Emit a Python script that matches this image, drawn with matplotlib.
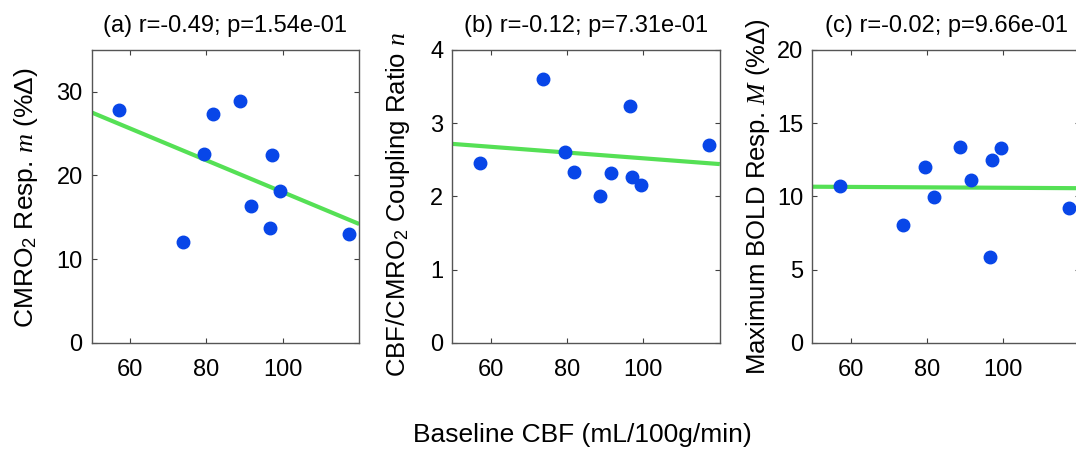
import numpy as np
import matplotlib
matplotlib.use("Agg")
import matplotlib.pyplot as plt

# ---- data ----
baseline_cbf = [57.2, 73.8, 79.5, 81.8, 88.7, 91.6, 96.6, 97.1, 99.4, 117.2]
cmro2_resp   = [27.8, 12.1, 22.6, 27.3, 28.9, 16.4, 13.7, 22.4, 18.1, 13.05]
coupling_n   = [2.46, 3.60, 2.61, 2.33, 2.00, 2.32, 3.23, 2.26, 2.15, 2.70]
bold_max_M   = [10.7, 8.04, 11.98, 9.95, 13.35, 11.14, 5.88, 12.48, 13.28, 9.23]

titles = ["(a) r=-0.49; p=1.54e-01",
          "(b) r=-0.12; p=7.31e-01",
          "(c) r=-0.02; p=9.66e-01"]
ylabels = ["CMRO$_2$ Resp. $m$ (%\u0394)",
           "CBF/CMRO$_2$ Coupling Ratio $n$",
           "Maximum BOLD Resp. $M$ (%\u0394)"]
ylims = [(0, 35), (0, 4), (0, 20)]
yticks = [[0, 10, 20, 30], [0, 1, 2, 3, 4], [0, 5, 10, 15, 20]]
xticks = [60, 80, 100]
xlim = (50, 120)
xlabel = "Baseline CBF (mL/100g/min)"

plt.rcParams['font.family'] = ['Liberation Sans', 'DejaVu Sans']
plt.rcParams['mathtext.fontset'] = 'custom'
plt.rcParams['mathtext.rm'] = 'Liberation Sans'
plt.rcParams['mathtext.it'] = 'Liberation Serif:italic'
plt.rcParams['mathtext.bf'] = 'Liberation Sans:bold'

W, H = 1076, 451
fig = plt.figure(figsize=(W / 100, H / 100), dpi=100)

lefts = [91.7, 452.3, 812.3]
ax_w, ax_top, ax_bot = 267.5, 50.0, 342.7
# y-label anchor: (baseline x, start y) in pixels from top-left
ylab_pos = [(33.5, 328.0), (405.0, 377.0), (765.0, 375.0)]
ylab_size = [19, 18.5, 18.5]
blue = '#0846E8'
green = '#55E055'
series = [cmro2_resp, coupling_n, bold_max_M]

for i in range(3):
    ax = fig.add_axes([lefts[i] / W, (H - ax_bot) / H, ax_w / W, (ax_bot - ax_top) / H])
    x = np.array(baseline_cbf)
    y = np.array(series[i])
    slope, icpt = np.polyfit(x, y, 1)
    xl = np.array(xlim, dtype=float)
    ax.plot(xl, slope * xl + icpt, color=green, lw=3.0, solid_capstyle='butt', zorder=2)
    ax.plot(x, y, 'o', color=blue, ms=9, mec=blue, zorder=3)
    ax.set_xlim(*xlim)
    ax.set_ylim(*ylims[i])
    ax.set_xticks(xticks)
    ax.set_yticks(yticks[i])
    ax.tick_params(direction='in', top=True, right=True, length=3.5, width=0.8,
                   color='#404040', labelsize=17)
    ax.tick_params(axis='x', pad=11.5)
    ax.tick_params(axis='y', pad=6.5)
    for s in ax.spines.values():
        s.set_color('#555555')
        s.set_linewidth(1.0)
    ax.set_title(titles[i], fontsize=17, pad=13)
    bx, sy = ylab_pos[i]
    fig.text(bx / W, (H - sy) / H, ylabels[i], rotation=90, rotation_mode='anchor',
             ha='left', va='baseline', fontsize=ylab_size[i])

fig.text(582.5 / W, (H - 441.7) / H, xlabel, ha='center', va='baseline', fontsize=19)

fig.savefig('out.png', dpi=100)
